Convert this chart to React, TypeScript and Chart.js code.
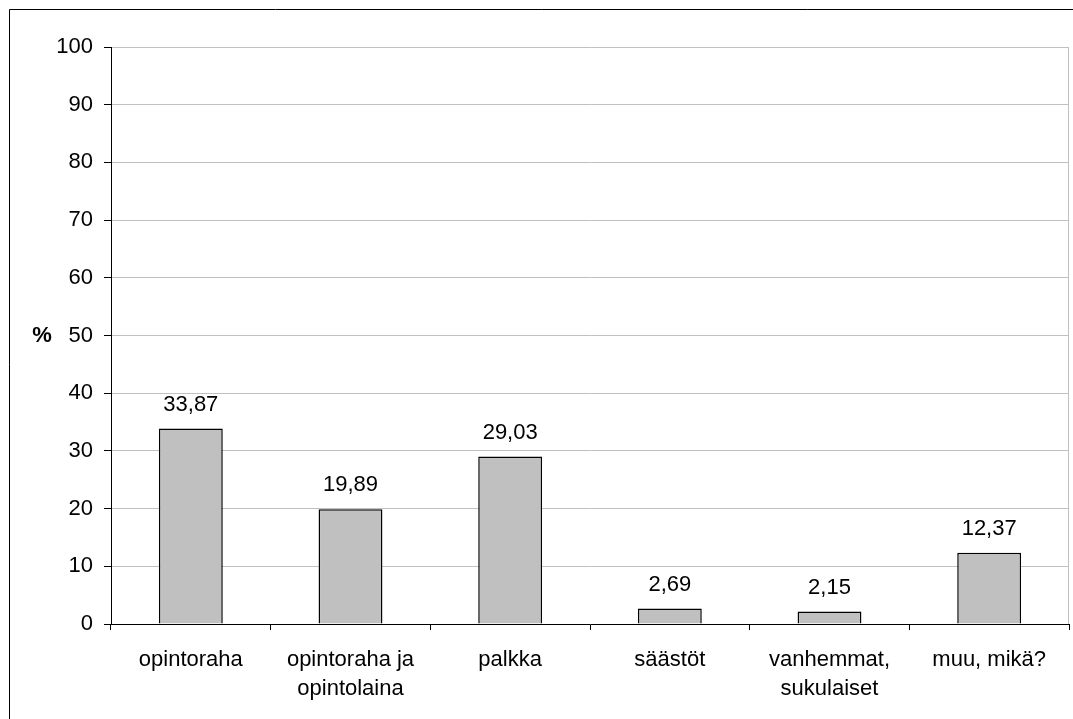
import React, { useEffect, useRef } from "react";
import { Chart, registerables } from "chart.js";

Chart.register(...registerables);

const categories: (string | string[])[] = [
  "opintoraha",
  ["opintoraha ja", "opintolaina"],
  "palkka",
  "säästöt",
  ["vanhemmat,", "sukulaiset"],
  "muu, mikä?",
];
const values: number[] = [33.87, 19.89, 29.03, 2.69, 2.15, 12.37];
const valueLabels: string[] = ["33,87", "19,89", "29,03", "2,69", "2,15", "12,37"];
const yTicks: number[] = [0, 10, 20, 30, 40, 50, 60, 70, 80, 90, 100];
const yTitle = "%";

const FONT = "'Liberation Sans', Arial, sans-serif";

export default function App() {
  const ref = useRef<HTMLCanvasElement | null>(null);
  useEffect(() => {
    if (!ref.current) return;
    const extras = {
      id: "extras",
      afterDraw(chart: any) {
        const ctx = chart.ctx;
        const area = chart.chartArea;
        ctx.save();
        // outer frame
        ctx.strokeStyle = "#000";
        ctx.lineWidth = 1;
        ctx.beginPath();
        ctx.moveTo(9.5, 730);
        ctx.lineTo(9.5, 9.5);
        ctx.lineTo(1090, 9.5);
        ctx.stroke();
        // right plot border
        ctx.strokeStyle = "#C0C0C0";
        ctx.beginPath();
        ctx.moveTo(Math.round(area.right) - 0.5, area.top);
        ctx.lineTo(Math.round(area.right) - 0.5, area.bottom);
        ctx.stroke();
        // y title
        const yScale = chart.scales.y;
        ctx.fillStyle = "#000";
        ctx.font = `bold 22px ${FONT}`;
        ctx.textAlign = "center";
        ctx.textBaseline = "middle";
        ctx.fillText(yTitle, 42, yScale.getPixelForValue(50));
        // value labels
        ctx.font = `22px ${FONT}`;
        ctx.textBaseline = "bottom";
        const meta = chart.getDatasetMeta(0);
        meta.data.forEach((bar: any, i: number) => {
          ctx.fillText(valueLabels[i], bar.x, bar.y - 13);
        });
        ctx.restore();
      },
    };
    const chart = new Chart(ref.current, {
      type: "bar",
      data: {
        labels: categories,
        datasets: [
          {
            data: values,
            backgroundColor: "#C0C0C0",
            borderColor: "#000",
            borderWidth: 1.5,
            barPercentage: 0.4,
            categoryPercentage: 1,
          },
        ],
      },
      plugins: [extras],
      options: {
        responsive: false,
        animation: false,
        layout: { padding: { left: 0, top: 47, right: 4, bottom: 0 } },
        plugins: {
          legend: { display: false },
          tooltip: { enabled: false },
        },
        scales: {
          x: {
            afterFit: (s: any) => {
              s.height = 95;
            },
            grid: {
              display: true,
              drawOnChartArea: false,
              drawTicks: true,
              tickLength: 6,
              tickColor: "#000",
              offset: true,
            },
            border: { color: "#000", width: 1 },
            ticks: {
              color: "#000",
              font: { family: FONT, size: 22, lineHeight: 1.3 },
              padding: 16,
              maxRotation: 0,
              autoSkip: false,
            },
          },
          y: {
            min: 0,
            max: 100,
            afterFit: (s: any) => {
              s.width = 111;
            },
            afterBuildTicks: (s: any) => {
              s.ticks = yTicks.map((v) => ({ value: v }));
            },
            grid: {
              color: "#C0C0C0",
              tickColor: "#000",
              tickLength: 7,
            },
            border: { color: "#000", width: 1 },
            ticks: {
              color: "#000",
              font: { family: FONT, size: 22 },
              padding: 11,
            },
          },
        },
      },
    } as any);
    return () => chart.destroy();
  }, []);
  return (
    <div style={{ position: "fixed", left: 0, top: 0, width: 1073, height: 719, background: "#fff" }}>
      <canvas ref={ref} width={1073} height={719} style={{ display: "block" }} />
    </div>
  );
}
